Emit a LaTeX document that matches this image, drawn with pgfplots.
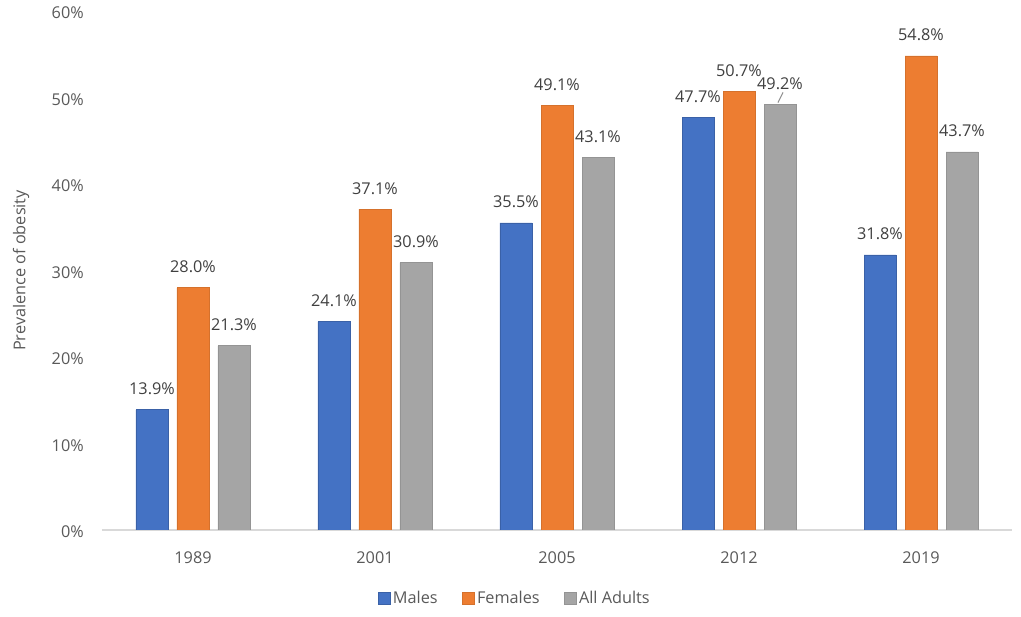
\documentclass[border=0pt]{standalone}
\usepackage{fontspec}
\setmainfont{Open Sans}
\usepackage{pgfplots}
\usepackage{pgfplotstable}
\pgfplotsset{compat=1.18}
\definecolor{cMale}{HTML}{4472C4}
\definecolor{cFem}{HTML}{ED7D31}
\definecolor{cAll}{HTML}{A5A5A5}
\definecolor{txt}{HTML}{595959}
\definecolor{lbl}{HTML}{404040}
\definecolor{axln}{HTML}{D9D9D9}

\pgfplotstableread{
x y
0 13.9
1 24.1
2 35.5
3 47.7
4 31.8
}\males
\pgfplotstableread{
x y
0 28.0
1 37.1
2 49.1
3 50.7
4 54.8
}\females
\pgfplotstableread{
x y
0 21.3
1 30.9
2 43.1
3 49.2
4 43.7
}\alladults

\newcommand{\chfont}{\fontsize{12.2}{14}\selectfont}

\begin{document}
\begin{tikzpicture}
\begin{axis}[
  at={(0pt,0pt)}, anchor=south west,
  scale only axis, width=682.5pt, height=389.25pt,
  xmin=-0.5, xmax=4.5, ymin=0, ymax=60,
  ybar=6.75pt, bar width=24pt,
  axis x line*=bottom, axis y line*=left,
  y axis line style={draw=none},
  x axis line style={draw=axln, line width=1.1pt},
  xtick style={draw=none}, ytick style={draw=none},
  ytick={0,10,...,60},
  yticklabel={\pgfmathprintnumber{\tick}\%},
  xtick={0,1,2,3,4},
  xticklabels={1989,2001,2005,2012,2019},
  /pgf/number format/assume math mode=true,
  ticklabel style={font=\chfont, text=txt},
  yticklabel style={anchor=east, inner sep=0pt, xshift=-13.5pt, yshift=-1.5pt},
  xticklabel style={anchor=base, inner sep=0pt, yshift=-21pt},
  ylabel={Prevalence of obesity},
  ylabel style={at={(axis description cs:-0.089,0.5)}, anchor=center, font=\chfont, text=txt, inner sep=0pt},
  nodes near coords={\pgfmathprintnumber[fixed,fixed zerofill,precision=1]{\pgfplotspointmeta}\%},
  nodes near coords style={font=\chfont, text=lbl, anchor=base, inner sep=0pt, yshift=11.25pt},
  legend columns=3,
  legend style={at={(axis description cs:0.5,0)}, anchor=center, xshift=-31.5pt, yshift=-51pt,
    draw=none, fill=none, font=\chfont, text=txt,
    /tikz/every even column/.append style={column sep=16pt},
    nodes={inner xsep=2pt, inner ysep=0pt}},
  sq/.style={legend image code/.code={\fill[##1] (0pt,-4.5pt) rectangle (9pt,4.5pt);}},
]
\addplot[fill=cMale, draw=cMale!85!black, line width=0.5pt, sq] table[x=x,y=y] {\males};
\addplot[fill=cFem, draw=cFem!90!black, line width=0.5pt, sq] table[x=x,y=y] {\females};
\addplot[fill=cAll, draw=cAll!90!black, line width=0.5pt, sq] table[x=x,y=y] {\alladults};
\legend{Males,Females,All Adults}
\draw[lbl!60, line width=0.75pt] (axis cs:3.214,49.4) -- (axis cs:3.242,50.6);
\end{axis}
\pgfresetboundingbox
\path[use as bounding box] (-76.5pt,-65.25pt) rectangle (689.25pt,397.5pt);
\end{tikzpicture}
\end{document}
